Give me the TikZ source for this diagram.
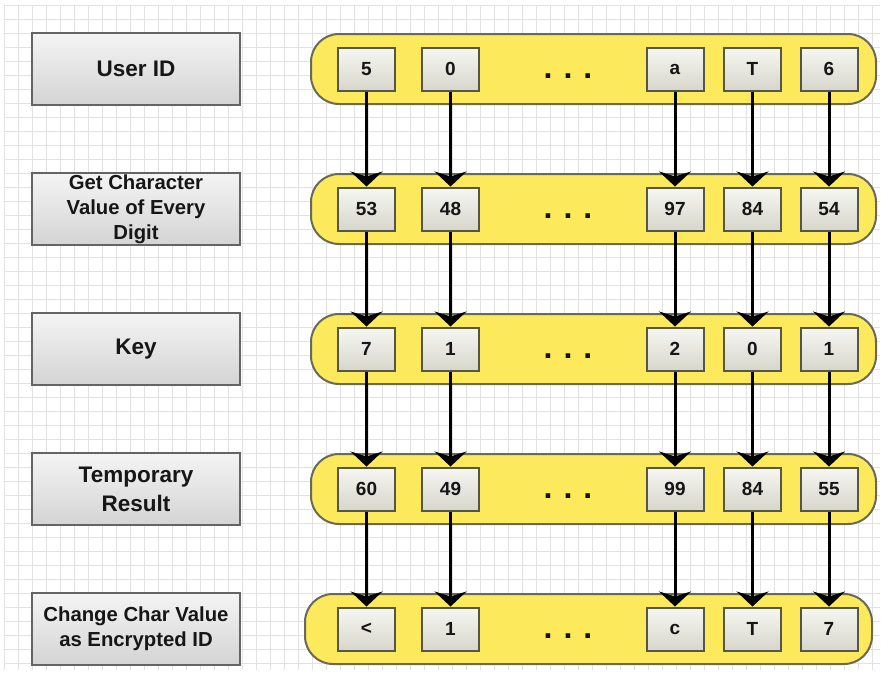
\documentclass[tikz,border=0pt]{standalone}
\usepackage{fontspec}
\setmainfont{Liberation Sans}
\usetikzlibrary{arrows.meta}

\definecolor{gridc}{RGB}{226,226,226}
\definecolor{bandfill}{RGB}{252,234,92}
\definecolor{bandline}{RGB}{105,105,90}
\definecolor{cellline}{RGB}{85,85,72}
\definecolor{celltop}{RGB}{247,247,242}
\definecolor{cellbot}{RGB}{214,214,204}
\definecolor{labtop}{RGB}{244,244,244}
\definecolor{labbot}{RGB}{212,212,212}
\definecolor{labline}{RGB}{100,100,100}
\definecolor{ink}{RGB}{22,22,22}

\tikzset{
  gridline/.style={draw=gridc, line width=0.7pt},
  labelbox/.style={draw=labline, line width=2pt, top color=labtop, bottom color=labbot,
    minimum width=208pt, minimum height=72pt, inner sep=0pt, align=center, text=ink},
  bigtext/.style={font=\bfseries\fontsize{22.5}{29}\selectfont},
  smalltext/.style={font=\bfseries\fontsize{20.3}{25}\selectfont},
  band/.style={draw=bandline, line width=2pt, fill=bandfill, rounded corners=28pt,
    minimum height=70pt, inner sep=0pt},
  cell/.style={draw=cellline, line width=2pt, top color=celltop, bottom color=cellbot,
    minimum width=57pt, minimum height=43pt, inner sep=0pt, text=ink,
    font=\bfseries\fontsize{19}{22}\selectfont},
  ellipsis/.style={anchor=base, inner sep=0pt, text=ink, font=\bfseries\fontsize{32}{32}\selectfont},
  flow/.style={line width=3pt, -{Stealth[length=15pt,width=32pt,inset=5pt]}}
}

\begin{document}
\begin{tikzpicture}[x=1pt,y=-1pt]
\useasboundingbox (0,0) rectangle (881,673);

% background grid
\foreach \gx in {4,18,...,880} \draw[gridline] (\gx,5) -- (\gx,670);
\foreach \gy in {5,19,...,670} \draw[gridline] (4,\gy) -- (880,\gy);

% step labels on the left
\node[labelbox, bigtext]   (l1) at (136,69)  {User ID};
\node[labelbox, smalltext] (l2) at (136,209) {Get Character\\Value of Every\\Digit};
\node[labelbox, bigtext]   (l3) at (136,349) {Key};
\node[labelbox, bigtext]   (l4) at (136,489) {Temporary\\Result};
\node[labelbox, smalltext] (l5) at (136,629) {Change Char Value\\as Encrypted ID};

% yellow rows
\node[band, minimum width=565pt] (b1) at (593.5,69)  {};
\node[band, minimum width=565pt] (b2) at (593.5,209) {};
\node[band, minimum width=565pt] (b3) at (593.5,349) {};
\node[band, minimum width=565pt] (b4) at (593.5,489) {};
\node[band, minimum width=567pt] (b5) at (588.5,629) {};

% character cells of every row
\foreach [count=\r] \a/\b/\c/\d/\e in {5/0/a/T/6, 53/48/97/84/54, 7/1/2/0/1, 60/49/99/84/55, </1/c/T/7} {
  \pgfmathsetmacro\yy{69+140*(\r-1)}
  \node[cell] (c\r-1) at (366.5,\yy) {\a};
  \node[cell] (c\r-2) at (450.5,\yy) {\b};
  \node[cell] (c\r-3) at (675,\yy)   {\c};
  \node[cell] (c\r-4) at (752.5,\yy) {\d};
  \node[cell] (c\r-5) at (829,\yy)   {\e};
  \node[ellipsis] (d\r) at (568,\yy+9.5) {.\kern11pt.\kern11pt.};
}

% arrows from each cell to the cell below
\foreach \r in {1,...,4} {
  \pgfmathtruncatemacro\n{\r+1}
  \foreach \k in {1,...,5}
    \draw[flow] (c\r-\k.south) -- (c\n-\k.north);
}
\end{tikzpicture}
\end{document}
